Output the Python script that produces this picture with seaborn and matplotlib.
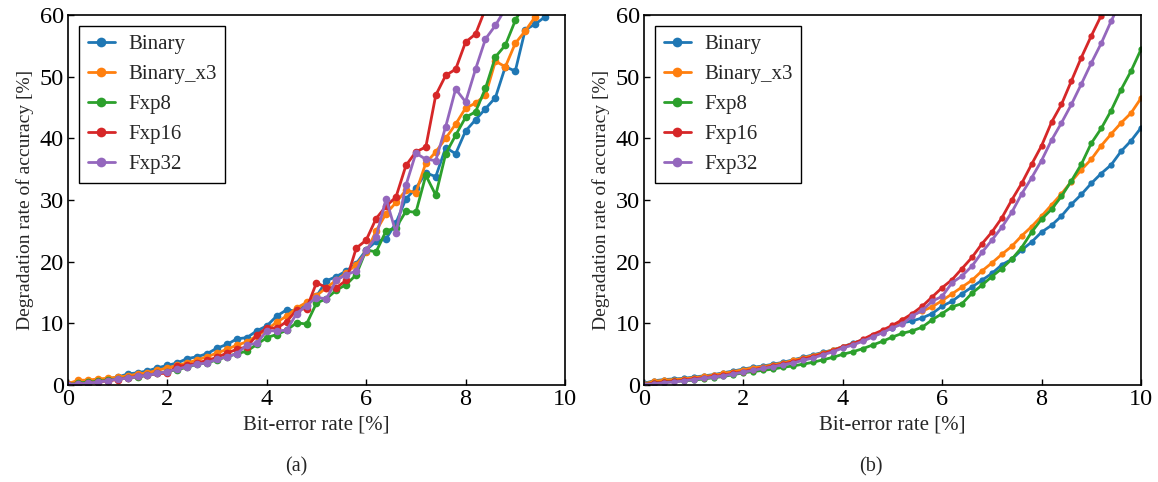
import matplotlib
matplotlib.use("Agg")
import matplotlib.pyplot as plt
import pandas as pd
import seaborn as sns

sns.set_style("ticks")
plt.rcParams["font.family"] = ["Liberation Serif", "DejaVu Serif"]
plt.rcParams["xtick.direction"] = "in"
plt.rcParams["ytick.direction"] = "in"

# bit-error rate grid [%]
ber = [0.0, 0.2, 0.4, 0.6, 0.8, 1.0, 1.2, 1.4, 1.6, 1.8,
       2.0, 2.2, 2.4, 2.6, 2.8, 3.0, 3.2, 3.4, 3.6, 3.8,
       4.0, 4.2, 4.4, 4.6, 4.8, 5.0, 5.2, 5.4, 5.6, 5.8,
       6.0, 6.2, 6.4, 6.6, 6.8, 7.0, 7.2, 7.4, 7.6, 7.8,
       8.0, 8.2, 8.4, 8.6, 8.8, 9.0, 9.2, 9.4, 9.6, 9.8, 10.0]

models = ["Binary", "Binary_x3", "Fxp8", "Fxp16", "Fxp32"]
colors = ["#1f77b4", "#ff7f0e", "#2ca02c", "#d62728", "#9467bd"]

# panel (a)
a_binary = [0.2, 0.5, 0.6, 0.8, 1.0, 1.3, 1.8, 2.0, 2.3, 2.8,
            3.2, 3.6, 4.3, 4.6, 5.1, 6.0, 6.6, 7.5, 7.7, 8.8,
            9.6, 11.2, 12.2, 12.0, 13.0, 14.4, 16.9, 17.6, 18.5, 19.7,
            21.9, 23.3, 23.7, 26.3, 30.2, 31.9, 34.4, 33.8, 38.5, 37.5,
            41.2, 43.0, 44.8, 46.6, 51.6, 50.9, 57.6, 58.5, 59.7, 61.5, 63.0]
a_binary_x3 = [0.2, 0.8, 0.8, 1.0, 1.1, 1.3, 1.5, 1.8, 2.0, 2.4,
               2.8, 3.2, 3.6, 4.1, 4.6, 5.2, 5.8, 6.5, 7.0, 8.0,
               9.0, 10.2, 11.2, 12.5, 13.4, 14.5, 15.8, 17.0, 18.2, 19.5,
               21.5, 25.0, 27.8, 29.6, 31.6, 31.2, 36.0, 37.8, 40.0, 42.3,
               44.9, 45.7, 47.0, 52.5, 51.6, 55.4, 57.4, 59.7, 62.0, 64.0, 66.0]
a_fxp8 = [0.1, 0.3, 0.5, 0.6, 0.8, 1.0, 1.2, 1.3, 1.6, 1.9,
          2.2, 2.5, 2.9, 3.4, 3.6, 4.1, 4.6, 5.1, 5.5, 6.6,
          7.7, 8.2, 8.9, 10.1, 9.9, 13.3, 14.0, 15.4, 16.3, 17.9,
          21.9, 21.6, 25.0, 25.5, 28.2, 28.0, 34.0, 30.8, 37.5, 40.5,
          43.4, 44.3, 48.1, 53.2, 55.1, 59.1, 62.0, 64.5, 67.0, 69.5, 72.0]
a_fxp16 = [0.1, 0.2, 0.3, 0.5, 0.7, 0.9, 1.2, 1.4, 1.6, 1.9,
           1.9, 3.1, 3.2, 3.6, 4.0, 4.5, 5.2, 5.8, 6.2, 8.1,
           9.3, 9.2, 10.3, 12.2, 12.4, 16.6, 15.8, 15.8, 17.0, 22.2,
           23.5, 27.0, 29.0, 30.5, 35.6, 37.8, 38.6, 47.0, 50.2, 51.2,
           55.6, 56.9, 61.0, 64.0, 67.0, 70.0, 72.5, 75.0, 77.5, 80.0, 82.0]
a_fxp32 = [0.1, 0.2, 0.3, 0.5, 0.7, 1.0, 1.1, 1.4, 1.6, 1.9,
           2.2, 2.6, 3.0, 3.4, 3.6, 4.2, 4.6, 5.1, 6.5, 6.8,
           8.8, 8.8, 8.9, 11.6, 12.9, 14.2, 14.0, 17.0, 17.9, 18.5,
           21.9, 24.0, 30.2, 24.7, 32.4, 37.6, 36.6, 36.4, 41.9, 48.0,
           45.9, 51.2, 56.1, 58.3, 61.0, 63.5, 66.0, 68.5, 71.0, 73.0, 75.0]

# panel (b)
b_binary = [0.3, 0.7, 0.9, 1.0, 1.1, 1.3, 1.5, 1.7, 2.0, 2.3,
            2.6, 2.9, 3.1, 3.4, 3.7, 4.1, 4.5, 4.9, 5.3, 5.7,
            6.2, 6.8, 7.3, 7.9, 8.6, 9.3, 10.1, 10.4, 10.9, 11.6,
            12.8, 13.6, 14.8, 15.9, 17.0, 18.1, 19.5, 20.4, 21.9, 23.2,
            24.8, 25.9, 27.4, 29.3, 30.9, 32.7, 34.3, 35.7, 37.9, 39.6, 41.7]
b_binary_x3 = [0.2, 0.6, 0.8, 0.9, 1.0, 1.2, 1.4, 1.6, 1.9, 2.2,
               2.5, 2.8, 3.0, 3.3, 3.6, 4.0, 4.4, 4.8, 5.2, 5.7,
               6.2, 6.7, 7.3, 8.0, 8.7, 9.6, 10.5, 11.4, 12.0, 12.7,
               13.7, 14.8, 15.9, 17.0, 18.5, 19.8, 21.2, 22.5, 24.2, 25.7,
               27.4, 29.2, 31.0, 33.0, 34.9, 36.6, 38.8, 40.7, 42.5, 44.1, 46.5]
b_fxp8 = [0.1, 0.3, 0.5, 0.6, 0.7, 0.8, 1.0, 1.2, 1.4, 1.7,
          2.0, 2.2, 2.4, 2.6, 2.9, 3.1, 3.4, 3.7, 4.1, 4.5,
          5.0, 5.4, 5.9, 6.5, 7.1, 7.8, 8.4, 8.8, 9.4, 10.6,
          11.6, 12.7, 13.2, 14.9, 16.2, 17.6, 18.9, 20.4, 22.3, 24.8,
          26.9, 28.5, 30.6, 33.1, 35.8, 39.2, 41.6, 44.5, 47.9, 50.9, 54.4]
b_fxp16 = [0.1, 0.3, 0.5, 0.6, 0.8, 1.0, 1.2, 1.4, 1.6, 1.9,
           2.2, 2.5, 2.8, 3.1, 3.4, 3.8, 4.2, 4.6, 5.1, 5.6,
           6.2, 6.7, 7.4, 8.2, 8.9, 9.7, 10.6, 11.6, 12.8, 14.3,
           15.8, 17.1, 18.9, 20.7, 22.9, 24.8, 27.1, 30.0, 32.7, 35.8,
           38.8, 42.6, 45.5, 49.3, 53.1, 56.6, 59.9, 63.5, 67.0, 70.5, 74.0]
b_fxp32 = [0.1, 0.2, 0.4, 0.5, 0.7, 0.9, 1.1, 1.3, 1.5, 1.8,
           2.1, 2.4, 2.7, 3.0, 3.3, 3.6, 4.0, 4.4, 4.9, 5.4,
           6.0, 6.5, 7.1, 7.8, 8.5, 9.3, 9.9, 11.2, 12.1, 13.6,
           14.4, 16.6, 17.7, 19.3, 21.5, 23.5, 25.6, 28.0, 31.0, 33.6,
           36.4, 39.7, 42.5, 45.5, 48.8, 52.2, 55.4, 59.0, 62.3, 65.5, 69.0]


def to_long(series):
    frames = []
    for name, values in zip(models, series):
        frames.append(pd.DataFrame({"ber": ber, "deg": values, "model": name}))
    return pd.concat(frames, ignore_index=True)


panels = [
    (to_long([a_binary, a_binary_x3, a_fxp8, a_fxp16, a_fxp32]), 5.5),
    (to_long([b_binary, b_binary_x3, b_fxp8, b_fxp16, b_fxp32]), 4.5),
]

fig = plt.figure(figsize=(11.58, 4.82), dpi=100)
ax_a = fig.add_axes([0.0587, 0.201, 0.4292, 0.768])
ax_b = fig.add_axes([0.5561, 0.201, 0.4292, 0.768])

for ax, (df, ms) in zip([ax_a, ax_b], panels):
    sns.lineplot(data=df, x="ber", y="deg", hue="model", hue_order=models,
                 palette=colors, marker="o", markersize=ms, markeredgewidth=0,
                 linewidth=2, ax=ax)
    ax.set_xlim(0, 10)
    ax.set_ylim(0, 60)
    ax.set_xticks([0, 2, 4, 6, 8, 10])
    ax.set_yticks([0, 10, 20, 30, 40, 50, 60])
    ax.tick_params(axis="both", labelsize=17.5, length=4, width=1, pad=3,
                   color="black", labelcolor="black")
    for side in ["left", "right", "top", "bottom"]:
        ax.spines[side].set_visible(True)
        ax.spines[side].set_color("black")
        ax.spines[side].set_linewidth(1.2)
    ax.set_xlabel("Bit-error rate [%]", fontsize=15, labelpad=4)
    ax.set_ylabel("Degradation rate of accuracy [%]", fontsize=14, labelpad=4)
    handles, labels = ax.get_legend_handles_labels()
    for h in handles:
        h.set_markersize(7)
    ax.legend(handles, labels, loc="upper left", fontsize=15, frameon=True,
              fancybox=False, edgecolor="black", framealpha=1,
              labelspacing=0.5, handlelength=1.3, handletextpad=0.65,
              borderpad=0.4, borderaxespad=0.55)
    ax.get_legend().get_frame().set_linewidth(1.0)

fig.text(0.256, 0.031, "(a)", fontsize=14.5, ha="center", va="center")
fig.text(0.752, 0.031, "(b)", fontsize=14.5, ha="center", va="center")

fig.savefig("out.png", dpi=100)
